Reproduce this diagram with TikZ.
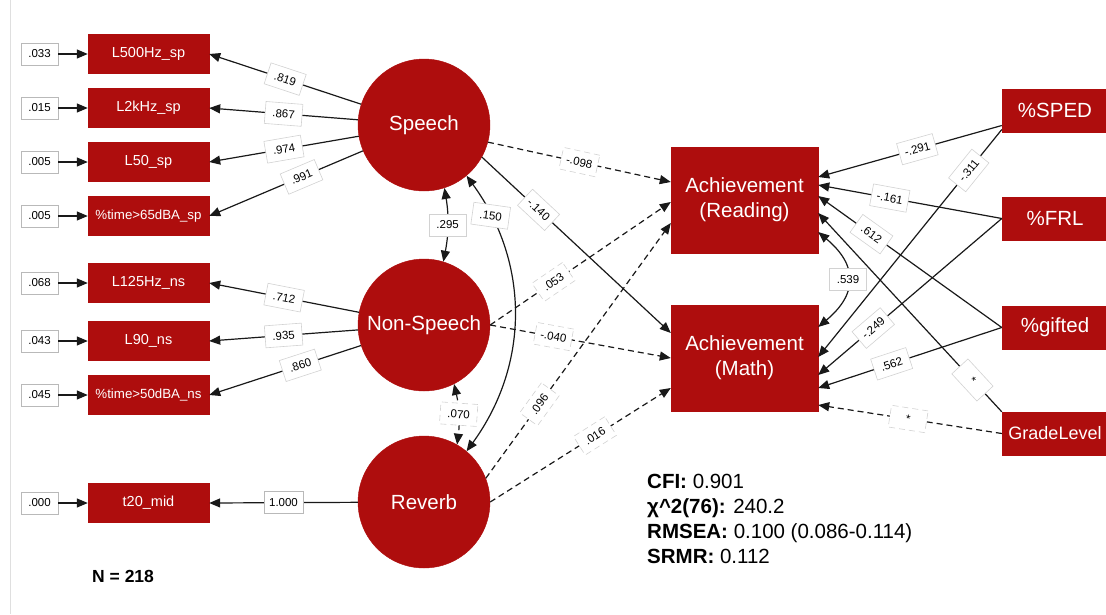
\documentclass[tikz,border=0pt]{standalone}
\usepackage{fontspec}
\setmainfont{Liberation Sans}
\usepackage{tikz}
\usetikzlibrary{arrows.meta,positioning,calc}
\definecolor{semred}{RGB}{174,13,13}
\definecolor{edgegray}{RGB}{25,25,25}

\begin{document}
\begin{tikzpicture}[x=1pt,y=-1pt,
  obs/.style={rectangle,fill=semred,draw=semred,text=white,minimum width=121pt,minimum height=39pt,inner sep=0pt,font=\fontsize{14.5}{17}\selectfont},
  obssmall/.style={obs,font=\fontsize{13.3}{16}\selectfont},
  lat/.style={circle,fill=semred,draw=semred,text=white,minimum size=132pt,inner sep=0pt,font=\fontsize{20.5}{24}\selectfont},
  outc/.style={rectangle,fill=semred,draw=semred,text=white,minimum width=147pt,minimum height=106pt,inner sep=0pt,align=center,font=\fontsize{20.5}{25}\selectfont},
  cova/.style={rectangle,fill=semred,draw=semred,text=white,minimum width=106pt,minimum height=43pt,inner sep=0pt,font=\fontsize{20.5}{24}\selectfont},
  err/.style={rectangle,draw=gray!55,fill=white,line width=0.6pt,minimum width=37pt,minimum height=22pt,inner sep=0pt,inner xsep=5pt,font=\fontsize{11.5}{13}\selectfont},
  lab/.style={err,draw=gray!35},
  slab/.style={lab,sloped},
  arr/.style={draw=edgegray,line width=1.2pt,-{Triangle[length=11pt,width=9pt]}},
  cov/.style={draw=edgegray,line width=1.2pt,{Triangle[length=11pt,width=9pt]}-{Triangle[length=11pt,width=9pt]}},
  dsh/.style={dash pattern=on 6pt off 4pt},
  stat/.style={anchor=base west,inner sep=0pt,font=\fontsize{20.5}{24}\selectfont}
]
\useasboundingbox (0,0) rectangle (1106,614);
\draw[gray!25,line width=1pt] (10.5,0) -- (10.5,614);

% observed indicators
\node[obs] (l500) at (148.5,54) {L500Hz\_sp};
\node[obs] (l2k) at (148.5,108) {L2kHz\_sp};
\node[obs] (l50) at (148.5,162) {L50\_sp};
\node[obssmall] (time65) at (148.5,216) {\%time>65dBA\_sp};
\node[obs] (l125) at (148.5,283) {L125Hz\_ns};
\node[obs] (l90) at (148.5,341) {L90\_ns};
\node[obssmall] (time50) at (148.5,395) {\%time>50dBA\_ns};
\node[obs] (t20) at (148.5,503) {t20\_mid};

% residual variances
\node[err] (e1) at (39.5,54) {.033};
\node[err] (e2) at (39.5,108) {.015};
\node[err] (e3) at (39.5,162) {.005};
\node[err] (e4) at (39.5,216) {.005};
\node[err] (e5) at (39.5,283) {.068};
\node[err] (e6) at (39.5,341) {.043};
\node[err] (e7) at (39.5,395) {.045};
\node[err] (e8) at (39.5,503) {.000};

% latent factors
\node[lat] (speech) at (424,125) {Speech};
\node[lat] (nonspeech) at (424,325) {Non-Speech};
\node[lat] (reverb) at (424,502) {Reverb};

% outcomes and covariates
\node[outc] (reading) at (744.5,200) {Achievement\\(Reading)};
\node[outc] (math) at (744.5,358) {Achievement\\(Math)};
\node[cova] (sped) at (1055,110.5) {\%SPED};
\node[cova] (frl) at (1055,218.5) {\%FRL};
\node[cova] (gifted) at (1055,327.5) {\%gifted};
\node[cova,font=\fontsize{18}{22}\selectfont] (grade) at (1055,433.5) {GradeLevel};

% fit
\node[stat] (cfi) at (647,488) {\textbf{CFI:} 0.901};
\node[stat] (chisq) at (647,513) {\textbf{χ\^{}2(76):} 240.2};
\node[stat] (rmsea) at (647,538) {\textbf{RMSEA:} 0.100 (0.086-0.114)};
\node[stat] (srmr) at (647,563) {\textbf{SRMR:} 0.112};
\node[anchor=base west,inner sep=0pt,font=\bfseries\fontsize{17.5}{20}\selectfont] (n) at (92,582) {N = 218};

% residual arrows
\draw[arr] (e1) -- (l500);
\draw[arr] (e2) -- (l2k);
\draw[arr] (e3) -- (l50);
\draw[arr] (e4) -- (time65);
\draw[arr] (e5) -- (l125);
\draw[arr] (e6) -- (l90);
\draw[arr] (e7) -- (time50);
\draw[arr] (e8) -- (t20);

% loadings
\draw[arr] (speech) -- node[slab]{.819} (l500.east);
\draw[arr] (speech) -- node[slab]{.867} (l2k.east);
\draw[arr] (speech) -- node[slab]{.974} (l50.east);
\draw[arr] (speech) -- node[slab,pos=.4]{.991} (time65.east);
\draw[arr] (nonspeech) -- node[slab]{.712} (l125.east);
\draw[arr] (nonspeech) -- node[slab]{.935} (l90.east);
\draw[arr] (nonspeech) -- node[slab,pos=.4]{.860} (time50.east);
\draw[arr] (reverb) -- node[err]{1.000} (t20.east);

% factor covariances
\draw[cov] (speech.-72) to[bend left=10] node[lab]{.295} (nonspeech.73);
\draw[cov] (speech.-50) to[bend left=36] node[lab,pos=.15,rotate=-8]{.150} (reverb.50);
\draw[cov,dsh] (nonspeech.-63) to[bend left=10] node[lab,rotate=-4]{.070} (reverb.60);

% structural paths
\draw[arr,dsh] (speech.-15) -- node[slab]{-.098} ([yshift=18pt]reading.west);
\draw[arr] (speech.-29) -- node[slab,pos=.3]{-.140} ([yshift=25pt]math.west);
\draw[arr,dsh] (nonspeech.east) -- node[slab,pos=.35]{.053} ([yshift=-2pt]reading.west);
\draw[arr,dsh] (nonspeech.east) -- node[slab,pos=.35]{-.040} (math.west);
\draw[arr,dsh] (reverb.21) -- node[slab,pos=.29]{.096} ([yshift=-23pt]reading.west);
\draw[arr,dsh] (reverb.east) -- node[slab,pos=.58]{.016} ([yshift=-30pt]math.west);

% covariates
\draw[arr] ([yshift=-15pt]sped.west) -- node[slab,pos=.46]{-.291} ([yshift=23pt]reading.east);
\draw[arr] ([yshift=-19pt]sped.west) -- node[slab,pos=.18]{-.311} ([yshift=1pt]math.east);
\draw[arr] (frl.west) -- node[slab,pos=.61]{-.161} ([yshift=15pt]reading.east);
\draw[arr] (frl.west) -- node[slab,pos=.70]{-.249} ([yshift=-17pt]math.east);
\draw[arr] (gifted.west) -- node[slab,pos=.71]{.612} ([yshift=4pt]reading.east);
\draw[arr] (gifted.west) -- node[slab,pos=.6]{.562} ([yshift=-30pt]math.east);
\draw[arr] (grade.north west) -- node[slab,pos=.16]{*} ([yshift=-13pt]reading.east);
\draw[arr,dsh] (grade.west) -- node[slab,pos=.51]{*} ([yshift=-47pt]math.east);
\draw[cov] ([yshift=-32pt]reading.east) to[out=-40,in=40,looseness=1.4] node[lab]{.539} ([yshift=31pt]math.east);
\end{tikzpicture}
\end{document}
